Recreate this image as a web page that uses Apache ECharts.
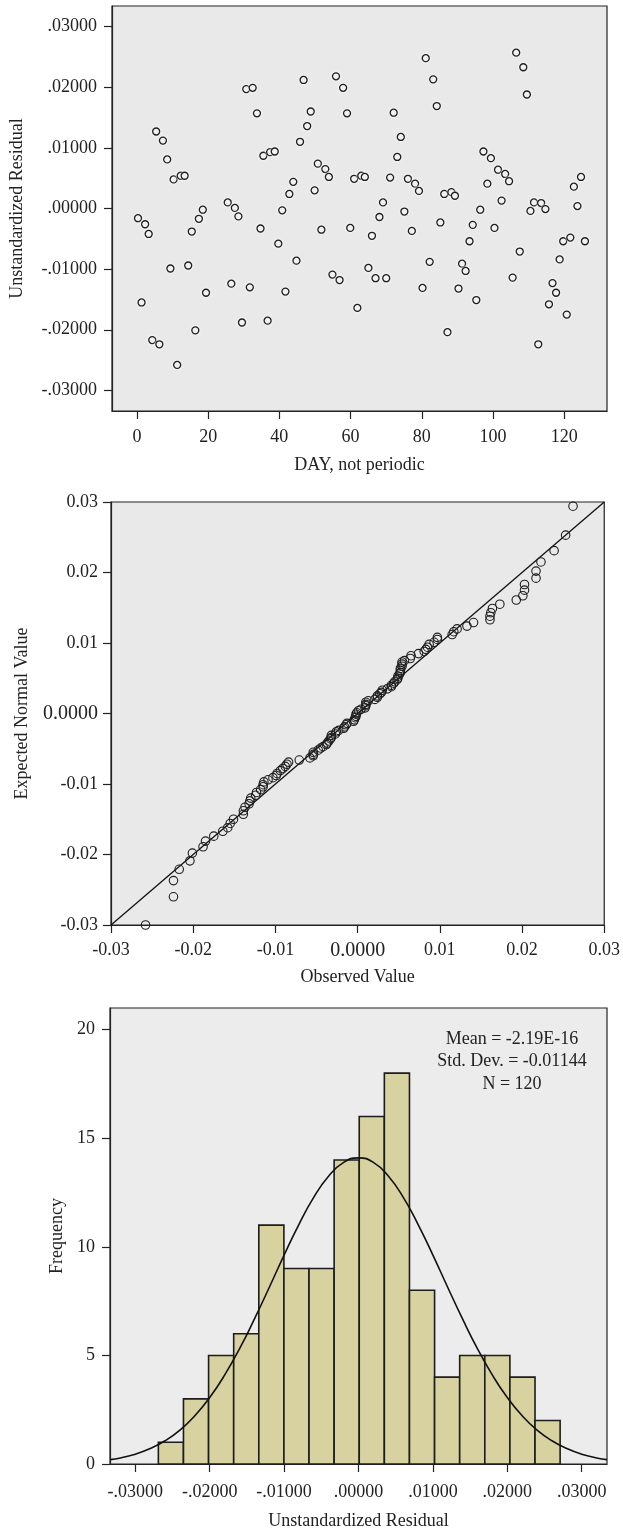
<!DOCTYPE html>
<html><head><meta charset="utf-8">
<script src="https://cdn.jsdelivr.net/npm/echarts@6/dist/echarts.min.js"></script>
<style>html,body{margin:0;padding:0;background:#fff}#c{width:623px;height:1531px}</style>
</head><body><div id="c"></div>
<script>
// ---------- Chart 1: residuals vs day ----------
const days = [0.3,1.3,2.3,3.3,4.3,5.4,6.3,7.3,8.5,9.4,10.3,11.3,12.3,13.4,14.4,15.4,16.4,17.4,18.5,19.4,
  25.5,26.5,27.5,28.5,29.5,30.7,31.7,32.5,33.7,34.7,35.5,36.7,37.4,38.7,39.7,40.8,41.7,42.8,43.9,44.8,45.8,46.8,47.8,48.8,49.9,
  50.8,51.8,52.9,53.9,54.9,55.9,56.9,57.9,59.0,59.9,61.0,61.9,63.0,64.0,65.0,66.0,67.0,68.1,69.1,70.0,71.1,72.1,73.1,74.1,75.1,76.1,77.2,78.1,79.2,
  80.2,81.1,82.2,83.2,84.2,85.2,86.3,87.2,88.3,89.3,90.3,91.3,92.3,93.4,94.3,95.3,96.4,97.3,98.4,99.4,100.4,101.4,102.4,103.4,104.5,
  105.5,106.5,107.5,108.5,109.5,110.5,111.5,112.7,113.5,114.7,115.7,116.7,117.7,118.7,119.7,120.7,121.7,122.7,123.7,124.7,125.8];
const residuals = [-0.0016,-0.0155,-0.0026,-0.0042,-0.0217,0.0127,-0.0224,0.0112,0.0081,-0.0099,0.0048,-0.0258,0.0054,0.0054,-0.0094,-0.0038,-0.0201,-0.0017,-0.0002,-0.0139,
  0.0010,-0.0124,0.0001,-0.0013,-0.0188,0.0197,-0.0130,0.0199,0.0157,-0.0033,0.0087,-0.0185,0.0093,0.0094,-0.0058,-0.0003,-0.0137,0.0024,0.0044,-0.0086,0.0110,0.0212,0.0136,0.0160,0.0030,
  0.0074,-0.0035,0.0065,0.0052,-0.0109,0.0218,-0.0118,0.0199,0.0157,-0.0032,0.0049,-0.0164,0.0054,0.0052,-0.0098,-0.0045,-0.0115,-0.0014,0.0010,-0.0115,0.0051,0.0158,0.0085,0.0118,-0.0005,0.0049,-0.0037,0.0041,0.0029,
  -0.0131,0.0248,-0.0088,0.0213,0.0169,-0.0023,0.0024,-0.0204,0.0027,0.0021,-0.0132,-0.0091,-0.0103,-0.0054,-0.0027,-0.0151,-0.0002,0.0094,0.0041,0.0083,-0.0032,0.0064,0.0013,0.0057,0.0045,
  -0.0114,0.0257,-0.0071,0.0233,0.0188,-0.0004,0.0010,-0.0224,0.0009,-0.0001,-0.0158,-0.0123,-0.0139,-0.0084,-0.0054,-0.0175,-0.0048,0.0036,0.0004,0.0052,-0.0054];
const scatterXTicks = [0,20,40,60,80,100,120];
const scatterYTicks = [-0.03,-0.02,-0.01,0,0.01,0.02,0.03];
const scatterYLabels = ['-.03000','-.02000','-.01000','.00000','.01000','.02000','.03000'];

// ---------- Chart 2: normal Q-Q ----------
const qqObserved = [-0.0258,-0.0224,-0.0224,-0.0217,-0.0204,-0.0201,-0.0188,-0.0185,-0.0175,-0.0164,
  -0.0158,-0.0155,-0.0151,-0.0139,-0.0139,-0.0137,-0.0132,-0.0131,-0.0130,-0.0124,
  -0.0123,-0.0118,-0.0115,-0.0115,-0.0114,-0.0109,-0.0103,-0.0099,-0.0098,-0.0094,
  -0.0091,-0.0088,-0.0086,-0.0084,-0.0071,-0.0058,-0.0054,-0.0054,-0.0054,-0.0048,
  -0.0045,-0.0042,-0.0038,-0.0037,-0.0035,-0.0033,-0.0032,-0.0032,-0.0027,-0.0026,
  -0.0023,-0.0017,-0.0016,-0.0014,-0.0013,-0.0005,-0.0004,-0.0003,-0.0002,-0.0002,
  -0.0001,0.0001,0.0004,0.0009,0.0010,0.0010,0.0010,0.0013,0.0021,0.0024,
  0.0024,0.0027,0.0029,0.0030,0.0036,0.0041,0.0041,0.0044,0.0045,0.0048,
  0.0049,0.0049,0.0051,0.0052,0.0052,0.0052,0.0054,0.0054,0.0054,0.0057,
  0.0064,0.0065,0.0074,0.0081,0.0083,0.0085,0.0087,0.0093,0.0097,0.0097,
  0.0115,0.0117,0.0121,0.0133,0.0141,0.0161,0.0161,0.0162,0.0164,0.0173,
  0.0193,0.0201,0.0203,0.0203,0.0217,0.0217,0.0223,0.0239,0.0253,0.0262];
const qqExpected = [-0.0300,-0.0260,-0.0237,-0.0221,-0.0209,-0.0198,-0.0189,-0.0181,-0.0174,-0.0167,
  -0.0162,-0.0156,-0.0150,-0.0143,-0.0138,-0.0133,-0.0128,-0.0124,-0.0120,-0.0116,
  -0.0112,-0.0108,-0.0104,-0.0101,-0.0097,-0.0094,-0.0091,-0.0088,-0.0085,-0.0081,
  -0.0078,-0.0075,-0.0072,-0.0069,-0.0066,-0.0063,-0.0060,-0.0058,-0.0055,-0.0052,
  -0.0049,-0.0047,-0.0044,-0.0042,-0.0039,-0.0036,-0.0034,-0.0031,-0.0029,-0.0026,
  -0.0024,-0.0021,-0.0019,-0.0016,-0.0014,-0.0011,-0.0009,-0.0006,-0.0004,-0.0001,
  0.0001,0.0004,0.0006,0.0008,0.0011,0.0013,0.0016,0.0018,0.0020,0.0023,
  0.0025,0.0028,0.0030,0.0033,0.0035,0.0038,0.0040,0.0043,0.0045,0.0048,
  0.0050,0.0053,0.0056,0.0058,0.0061,0.0064,0.0067,0.0070,0.0073,0.0075,
  0.0078,0.0082,0.0085,0.0088,0.0091,0.0094,0.0098,0.0101,0.0105,0.0108,
  0.0112,0.0116,0.0120,0.0124,0.0129,0.0133,0.0138,0.0143,0.0149,0.0155,
  0.0161,0.0167,0.0175,0.0183,0.0192,0.0202,0.0215,0.0231,0.0253,0.0294];
const qqLine = [[-0.03,-0.03],[0.03,0.03]];
const qqTicks = [-0.03,-0.02,-0.01,0,0.01,0.02,0.03];
const qqLabels = ['-0.03','-0.02','-0.01','0.0000','0.01','0.02','0.03'];

// ---------- Chart 3: histogram ----------
const histBinStart = -0.0269;
const histBinWidth = 0.003375;
const histCounts = [1,3,5,6,11,9,9,14,16,18,8,4,5,5,4,2];
const curveX = [-0.0334,-0.032,-0.030,-0.028,-0.026,-0.024,-0.022,-0.020,-0.018,-0.016,-0.014,-0.012,-0.010,-0.008,-0.006,-0.004,-0.002,0,
  0.002,0.004,0.006,0.008,0.010,0.012,0.014,0.016,0.018,0.020,0.022,0.024,0.026,0.028,0.030,0.032,0.0334];
const curveY = [0.20,0.28,0.45,0.71,1.07,1.56,2.22,3.06,4.09,5.30,6.67,8.13,9.62,11.04,12.29,13.26,13.89,14.1,
  13.89,13.26,12.29,11.04,9.62,8.13,6.67,5.30,4.09,3.06,2.22,1.56,1.07,0.71,0.45,0.28,0.20];
const histXTicks = [-0.03,-0.02,-0.01,0,0.01,0.02,0.03];
const histXLabels = ['-.03000','-.02000','-.01000','.00000','.01000','.02000','.03000'];
const histYTicks = [0,5,10,15,20];
const statsLines = ['Mean = -2.19E-16','Std. Dev. = -0.01144','N = 120'];

// ---------- styling helpers ----------
const FONT = 'Liberation Serif';
const INK = '#222';
function lookup(ticks, labels){
  return function(v){
    for (let i=0;i<ticks.length;i++){ if (Math.abs(v-ticks[i])<1e-9) return labels[i]; }
    return '';
  };
}
function axis(o){
  const a = {
    type:'value', gridIndex:o.grid, min:o.min, max:o.max,
    name:o.name, nameLocation:'middle', nameGap:o.nameGap,
    nameTextStyle:{fontFamily:FONT,fontSize:18,color:INK},
    axisLine:{show:true,onZero:false,lineStyle:{color:INK,width:1.2}},
    axisTick:{show:true,inside:false,length:8,customValues:o.ticks,lineStyle:{color:INK,width:1.2}},
    axisLabel:{show:true,customValues:o.ticks,fontFamily:FONT,fontSize:18,color:INK,margin:o.margin,
      formatter:o.formatter, rich:o.rich||{}},
    splitLine:{show:false}
  };
  if (o.rotate) a.nameRotate = 90;
  return a;
}
const gridStyle = {show:true,backgroundColor:'#e9e9e9',borderColor:INK,borderWidth:1.2,containLabel:false};

const scatterData = days.map((d,i)=>[d,residuals[i]]);
const qqData = qqObserved.map((x,i)=>[x,qqExpected[i]]);
const histData = histCounts.map((c,i)=>[histBinStart+i*histBinWidth, histBinStart+(i+1)*histBinWidth, c]);
const curveData = curveX.map((x,i)=>[x,curveY[i]]);

const chart = echarts.init(document.getElementById('c'), null, {renderer:'canvas'});
chart.setOption({
  animation:false,
  backgroundColor:'#ffffff',
  grid:[
    Object.assign({left:110,top:6,width:497,height:405}, gridStyle),
    Object.assign({left:111,top:502,width:495,height:423}, gridStyle),
    Object.assign({left:110,top:1008,width:497,height:456}, gridStyle, {backgroundColor:'#ececec'})
  ],
  xAxis:[
    axis({grid:0,min:-7,max:132,ticks:scatterXTicks,name:'DAY, not periodic',nameGap:45,margin:17,
      formatter:function(v){return String(v);}}),
    axis({grid:1,min:-0.03,max:0.03,ticks:qqTicks,name:'Observed Value',nameGap:43,margin:16,
      formatter:function(v){const s=lookup(qqTicks,qqLabels)(v); return s==='0.0000'?'{z|'+s+'}':s;},
      rich:{z:{fontFamily:FONT,fontSize:20,color:INK}}}),
    axis({grid:2,min:-0.0334,max:0.0334,ticks:histXTicks,name:'Unstandardized Residual',nameGap:48,margin:19,
      formatter:lookup(histXTicks,histXLabels)})
  ],
  yAxis:[
    axis({grid:0,min:-0.0334,max:0.0334,ticks:scatterYTicks,name:'Unstandardized Residual',nameGap:86,margin:15,rotate:true,
      formatter:lookup(scatterYTicks,scatterYLabels)}),
    axis({grid:1,min:-0.03,max:0.03,ticks:qqTicks,name:'Expected Normal Value',nameGap:80,margin:13,rotate:true,
      formatter:function(v){const s=lookup(qqTicks,qqLabels)(v); return s==='0.0000'?'{z|'+s+'}':s;},
      rich:{z:{fontFamily:FONT,fontSize:20,color:INK}}}),
    axis({grid:2,min:0,max:21,ticks:histYTicks,name:'Frequency',nameGap:44,margin:15,rotate:true,
      formatter:function(v){return String(v);}})
  ],
  series:[
    {type:'scatter',xAxisIndex:0,yAxisIndex:0,data:scatterData,symbol:'circle',symbolSize:7,z:3,
      itemStyle:{color:'#eeeeee',borderColor:'#1e1e1e',borderWidth:1.3,shadowBlur:3,shadowColor:'#ffffff',opacity:1}},
    {type:'line',xAxisIndex:1,yAxisIndex:1,data:qqLine,symbol:'none',z:2,
      lineStyle:{color:'#111',width:1.3}},
    {type:'scatter',xAxisIndex:1,yAxisIndex:1,data:qqData,symbol:'circle',symbolSize:8.5,z:3,
      itemStyle:{color:'rgba(0,0,0,0)',borderColor:'#1e1e1e',borderWidth:1.1,opacity:1}},
    {type:'custom',xAxisIndex:2,yAxisIndex:2,data:histData,z:2,
      encode:{x:[0,1],y:2},
      renderItem:function(params,api){
        const p0 = api.coord([api.value(0), api.value(2)]);
        const p1 = api.coord([api.value(1), 0]);
        return {type:'rect',shape:{x:p0[0],y:p0[1],width:p1[0]-p0[0],height:p1[1]-p0[1]},
          style:{fill:'#d7d29f',stroke:'#1c1c1c',lineWidth:1.6}};
      }},
    {type:'line',xAxisIndex:2,yAxisIndex:2,data:curveData,symbol:'none',smooth:true,z:4,
      lineStyle:{color:'#111',width:1.6}}
  ],
  graphic:[
    {type:'text',x:512,y:1028,z:10,
      style:{text:statsLines.join('\n'),fontFamily:FONT,fontSize:18,fill:INK,align:'center',verticalAlign:'top',lineHeight:22.5}}
  ]
});
</script>
</body></html>
